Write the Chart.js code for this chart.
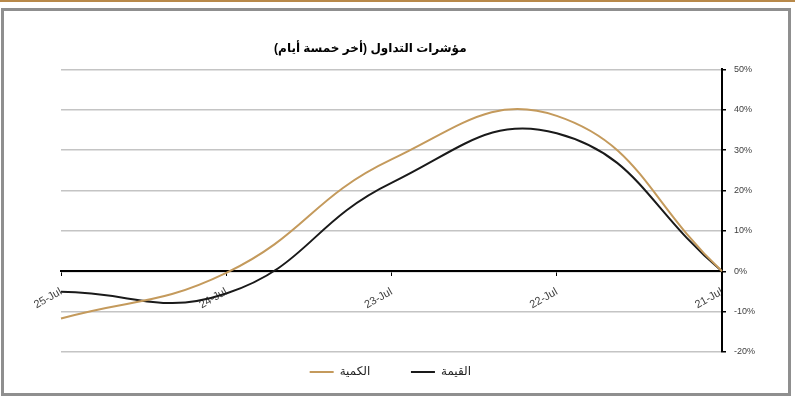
<!DOCTYPE html>
<html>
<head>
<meta charset="utf-8">
<script src="https://cdn.jsdelivr.net/npm/chart.js@4"></script>
<style>
  body { margin: 0; background: #fff; width: 795px; height: 397px; overflow: hidden; position: relative; }
  #topline { position: absolute; left: 0; top: 0; width: 795px; height: 2px; background: #b8894a; }
  #frame { position: absolute; left: 1px; top: 8px; width: 784px; height: 382px; border: 3px solid #8f8f8f; }
</style>
</head>
<body>
<div id="topline"></div>
<div id="frame"><canvas id="myChart" width="784" height="382"></canvas></div>
<script>
const days = ["25-Jul", "24-Jul", "23-Jul", "22-Jul", "21-Jul"];
const qty = [-11.7, -0.4, 27.7, 38.5, 0];     // الكمية
const value = [-5.1, -5.5, 21.9, 34.2, 0];    // القيمة
const qtyLabel = "الكمية";
const valueLabel = "القيمة";
const titleText = "مؤشرات التداول (أخر خمسة أيام)";

const ctx = document.getElementById("myChart");

// trailing no-break spaces widen the legend items / title (spacing, centering)
const legendGap = [8, 13];
const titleShift = 25;
const defaultLabels = Chart.defaults.plugins.legend.labels.generateLabels;

const data = {
  labels: days,
  datasets: [
    {
      label: qtyLabel,
      data: qty,
      borderColor: "#c49a5c",
      borderWidth: 2,
      tension: 0.45,
      pointRadius: 0,
    },
    {
      label: valueLabel,
      data: value,
      borderColor: "#1a1a1a",
      borderWidth: 2,
      tension: 0.45,
      pointRadius: 0,
    },
  ],
};

const config = {
  type: "line",
  data: data,
  options: {
    responsive: false,
    animation: false,
    layout: { padding: { left: 57, right: 25, top: 24, bottom: 5 } },
    plugins: {
      title: {
        display: true,
        text: titleText + "\u00A0".repeat(titleShift),
        color: "#000",
        font: { family: "Arial, 'DejaVu Sans'", size: 12, weight: "bold" },
        padding: { top: 6, bottom: 14 },
      },
      legend: {
        position: "bottom",
        labels: {
          usePointStyle: true,
          pointStyle: "line",
          pointStyleWidth: 24,
          color: "#222",
          font: { family: "Arial, 'DejaVu Sans'", size: 12 },
          padding: 14,
          generateLabels: function (chart) {
            const items = defaultLabels(chart);
            items.forEach(function (it, i) {
              it.text = it.text + "\u00A0".repeat(legendGap[i]);
            });
            return items;
          },
        },
      },
      tooltip: { enabled: false },
    },
    scales: {
      x: {
        position: { y: 0 },
        offset: false,
        grid: { drawOnChartArea: false, tickLength: 4, tickColor: "#000" },
        border: { color: "#000", width: 2 },
        ticks: {
          minRotation: 30,
          maxRotation: 30,
          color: "#404040",
          font: { family: "Arial", size: 11 },
          padding: 10,
        },
      },
      y: {
        position: "right",
        min: -20,
        max: 50,
        grid: { color: "#c4c4c4", lineWidth: 1.5, tickLength: 4, tickColor: "#000" },
        border: { color: "#000", width: 2 },
        ticks: {
          stepSize: 10,
          color: "#404040",
          font: { family: "Arial", size: 9 },
          padding: 8,
          callback: function (v) { return v + "%"; },
        },
      },
    },
  },
};

const myChart = new Chart(ctx, config);
</script>
</body>
</html>
